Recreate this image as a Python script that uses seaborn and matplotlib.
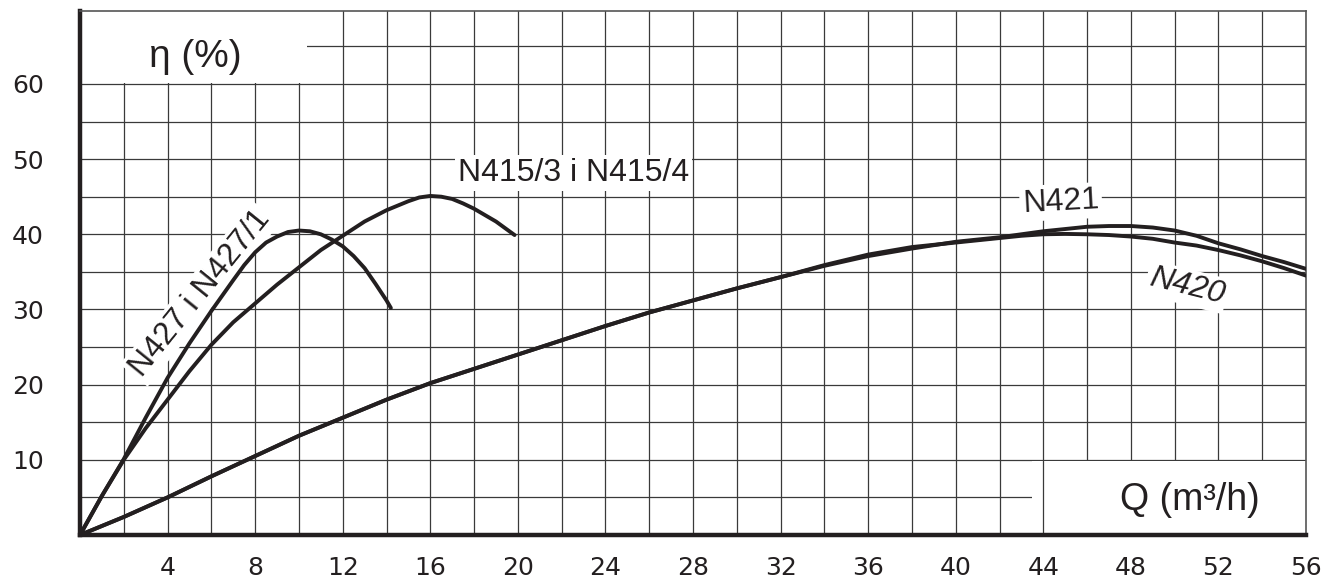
import matplotlib
matplotlib.use('Agg')
import numpy as np
import pandas as pd
import matplotlib.pyplot as plt
import seaborn as sns
from matplotlib.patches import Rectangle

# efficiency curves, Q in m3/h, eta in %
q_n427 = [0, 1, 2, 3, 4, 5, 6, 7, 7.5, 8, 8.5, 9, 9.5, 10, 10.5, 11, 11.5, 12, 12.5, 13, 13.5, 14, 14.2]
eta_n427 = [0, 5.2, 10.1, 15.6, 20.9, 25.5, 29.8, 33.9, 35.9, 37.6, 38.9, 39.7, 40.3, 40.5, 40.4, 40.0,
            39.3, 38.4, 37.1, 35.5, 33.4, 31.2, 30.2]

q_n415 = [0, 1, 2, 3, 4, 5, 6, 7, 8, 9, 10, 11, 12, 13, 14, 15, 15.5, 16, 16.5, 17, 17.5, 18, 19, 19.85]
eta_n415 = [0, 5.2, 10.0, 14.2, 18.0, 21.8, 25.3, 28.3, 30.8, 33.3, 35.6, 37.9, 39.8, 41.7, 43.2, 44.4,
            44.9, 45.1, 45.0, 44.7, 44.1, 43.4, 41.7, 39.9]

q_n420 = [0, 2, 4, 6, 8, 10, 12, 14, 16, 18, 20, 22, 24, 26, 28, 30, 32, 34, 36, 38,
          40, 41, 42, 43, 44, 45, 46, 47, 48, 49, 50, 51, 52, 53, 54, 55, 56]
eta_n420 = [0, 2.4, 5.0, 7.8, 10.5, 13.2, 15.6, 18.0, 20.2, 22.1, 24.0, 25.9, 27.8, 29.6, 31.2, 32.8, 34.3, 35.9,
            37.3, 38.3, 38.9, 39.2, 39.5, 39.8, 40.0, 40.05, 40.0, 39.9, 39.7, 39.4, 38.9, 38.5, 37.9, 37.2,
            36.4, 35.5, 34.5]

q_n421 = [0, 2, 4, 6, 8, 10, 12, 14, 16, 18, 20, 22, 24, 26, 28, 30, 32, 34, 36, 38,
          40, 41, 42, 43, 44, 45, 46, 47, 48, 49, 50, 51, 52, 53, 54, 55, 56]
eta_n421 = [0, 2.4, 5.0, 7.8, 10.5, 13.2, 15.6, 18.0, 20.2, 22.1, 24.0, 25.9, 27.8, 29.6, 31.2, 32.8, 34.3, 35.8,
            37.1, 38.1, 39.0, 39.3, 39.6, 40.0, 40.4, 40.7, 41.0, 41.1, 41.1, 40.9, 40.5, 39.8, 38.8, 38.0,
            37.1, 36.3, 35.4]

x_ticks = [4, 8, 12, 16, 20, 24, 28, 32, 36, 40, 44, 48, 52, 56]
y_ticks = [10, 20, 30, 40, 50, 60]

sns.set_style('white')
plt.rcParams['font.family'] = ['Liberation Sans', 'DejaVu Sans']

ink = '#231f20'
grid_c = '#3a3a3a'

fig = plt.figure(figsize=(13.37, 5.8), dpi=100)
ax = fig.add_axes([80 / 1337, 1 - 535 / 580, (1306 - 80) / 1337, (535 - 11) / 580])

ax.set_xlim(0, 56)
ax.set_ylim(0, 69.7)
ax.set_xticks(x_ticks)
ax.set_xticks(np.arange(2, 56, 4), minor=True)
ax.set_yticks(y_ticks)
ax.set_yticks(np.arange(5, 70, 10), minor=True)
ax.set_axisbelow(True)
ax.grid(which='both', color=grid_c, lw=0.9)
ax.tick_params(which='both', length=0)
ax.tick_params(axis='x', pad=15, labelsize=18, labelcolor=ink)
ax.tick_params(axis='y', pad=26, labelsize=18, labelcolor=ink)
for lab in ax.get_xticklabels() + ax.get_yticklabels():
    lab.set_fontfamily('DejaVu Sans')

for side in ['left', 'bottom']:
    ax.spines[side].set_color(ink)
    ax.spines[side].set_linewidth(3.2)
for side in ['top', 'right']:
    ax.spines[side].set_color('#555555')
    ax.spines[side].set_linewidth(1.2)

# blank areas of the grid behind the axis titles
ax.add_patch(Rectangle((0, 60.15), 10.35, 9.6, facecolor='white', edgecolor='none', zorder=1))
ax.add_patch(Rectangle((43.5, 0), 12.5, 9.9, facecolor='white', edgecolor='none', zorder=1))
ax.vlines(44, 0, 10, color=grid_c, lw=0.9, zorder=1.1)

curves = [(q_n427, eta_n427), (q_n415, eta_n415), (q_n420, eta_n420), (q_n421, eta_n421)]
for qs, etas in curves:
    sns.lineplot(x=qs, y=etas, ax=ax, color=ink, lw=2.8, sort=False, estimator=None, zorder=3,
                 solid_joinstyle='round')

box = dict(facecolor='white', edgecolor='none', pad=2)
ax.text(5.25, 63.6, 'η (%)', fontsize=28, color=ink, ha='center', va='center', zorder=2)
ax.text(50.7, 4.65, 'Q (m³/h)', fontsize=27, color=ink, ha='center', va='center', zorder=2)
ax.text(22.56, 48.2, 'N415/3 i N415/4', fontsize=23, color=ink, ha='center', va='center', bbox=box, zorder=2)
ax.text(5.48, 32.1, 'N427 i N427/1', fontsize=23, color=ink, ha='center', va='center',
        rotation=51, rotation_mode='anchor', bbox=box, zorder=2)
ax.text(44.8, 44.3, 'N421', fontsize=23, color=ink, ha='center', va='center',
        rotation=3, rotation_mode='anchor', bbox=box, zorder=2)
ax.text(50.55, 33.0, 'N420', fontsize=23, color=ink, ha='center', va='center', style='italic',
        rotation=-14, rotation_mode='anchor', bbox=box, zorder=2)

ax.set_xlabel('')
ax.set_ylabel('')

fig.savefig('out.png', dpi=100)
